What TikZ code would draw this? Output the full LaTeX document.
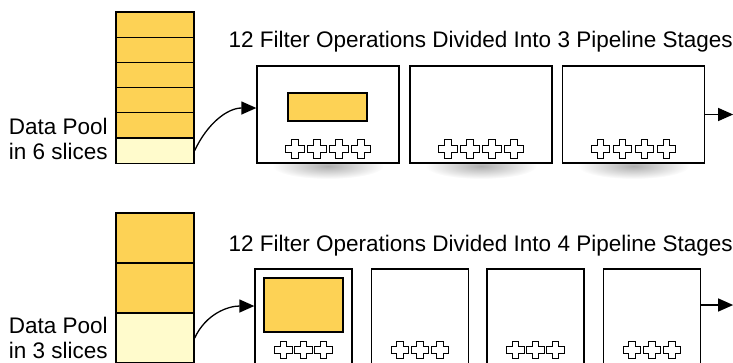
\documentclass[tikz,border=0pt]{standalone}
\usepackage{fontspec}
\setmainfont{Liberation Sans}
\usetikzlibrary{arrows.meta, positioning, calc}
\definecolor{poolgold}{RGB}{253,210,85}
\definecolor{poollight}{RGB}{255,251,204}

\begin{document}
\begin{tikzpicture}[x=1pt, y=-1pt, line width=1.3pt,
    every node/.style={font=\fontsize{22.5}{25}\selectfont},
    slice/.style={draw, fill=poolgold, minimum width=78pt, inner sep=0pt},
    stagebox/.style={draw, fill=white, inner sep=0pt},
    workbox/.style={draw, fill=poolgold, minimum width=79pt, inner sep=0pt},
    flow/.style={-{Triangle[length=15pt, width=13pt]}, line width=1.3pt},
    plusmark/.pic={
      \draw[line width=1.2pt, fill=white] (-3.3,-9.3) -- (3.3,-9.3) -- (3.3,-3.3) -- (9.3,-3.3)
        -- (9.3,3.3) -- (3.3,3.3) -- (3.3,9.3) -- (-3.3,9.3) -- (-3.3,3.3) -- (-9.3,3.3)
        -- (-9.3,-3.3) -- (-3.3,-3.3) -- cycle;
    }]
    \path[use as bounding box] (0,0) rectangle (733,362);
    \clip (0,0) rectangle (733,362);

    % data pool in 6 slices
    \foreach \i in {1,...,5}
      \node[slice, minimum height=25.2pt] (tp\i) at (155,{12+25.2*(\i-0.5)}) {};
    \node[slice, fill=poollight, minimum height=25.2pt] (tp6) at (155,{12+25.2*5.5}) {};
    \node[left=7pt of tp5.south west, align=right, inner sep=0pt] (tlabel) {Data Pool\\in 6 slices};

    \node[anchor=base west, inner sep=0pt] (ttitle) at (228,47) {12 Filter Operations Divided Into 3 Pipeline Stages};

    \foreach \x [count=\i] in {328,481,633.5} {
      \shade[inner color=black!32, outer color=white] (\x,166) ellipse (56 and 13);
      \node[stagebox, minimum width=142pt, minimum height=97pt] (ts\i) at (\x,114.5) {};
      \foreach \k in {-1.5,-0.5,0.5,1.5}
        \pic at ({\x+22*\k},149) {plusmark};
    }
    \node[workbox, minimum height=28pt] (tw) at (327.5,107) {};

    \coordinate[right=28pt of ts3.east] (tend);
    \draw[flow] (tp6.east) to[out=65, in=180] ($(ts1.west)+(0,-6.5)$);
    \draw[flow] (ts3.east) -- (tend);

    % data pool in 3 slices
    \node[slice, minimum height=50pt] (bp1) at (155,238) {};
    \node[slice, minimum height=50pt] (bp2) at (155,288) {};
    \node[slice, fill=poollight, minimum height=50pt] (bp3) at (155,338) {};
    \node[left=7pt of bp3.west, align=right, inner sep=0pt] (blabel) {Data Pool\\in 3 slices};

    \node[anchor=base west, inner sep=0pt] (btitle) at (228,251) {12 Filter Operations Divided Into 4 Pipeline Stages};

    \foreach \x [count=\i] in {303.5,420,535.5,652} {
      \node[stagebox, minimum width=97pt, minimum height=110pt] (bs\i) at (\x,324) {};
      \foreach \k in {-1,0,1}
        \pic[scale=0.95] at ({\x+20*\k},350) {plusmark};
    }
    \node[workbox, minimum height=54pt] (bw) at (303.5,305) {};

    \coordinate (bstart) at ($(bs4.east)+(0,-19)$);
    \coordinate[right=32pt of bstart] (bend);
    \draw[flow] (bp3.east) to[out=65, in=180] ($(bs1.west)+(0,-18)$);
    \draw[flow] (bstart) -- (bend);
\end{tikzpicture}
\end{document}
